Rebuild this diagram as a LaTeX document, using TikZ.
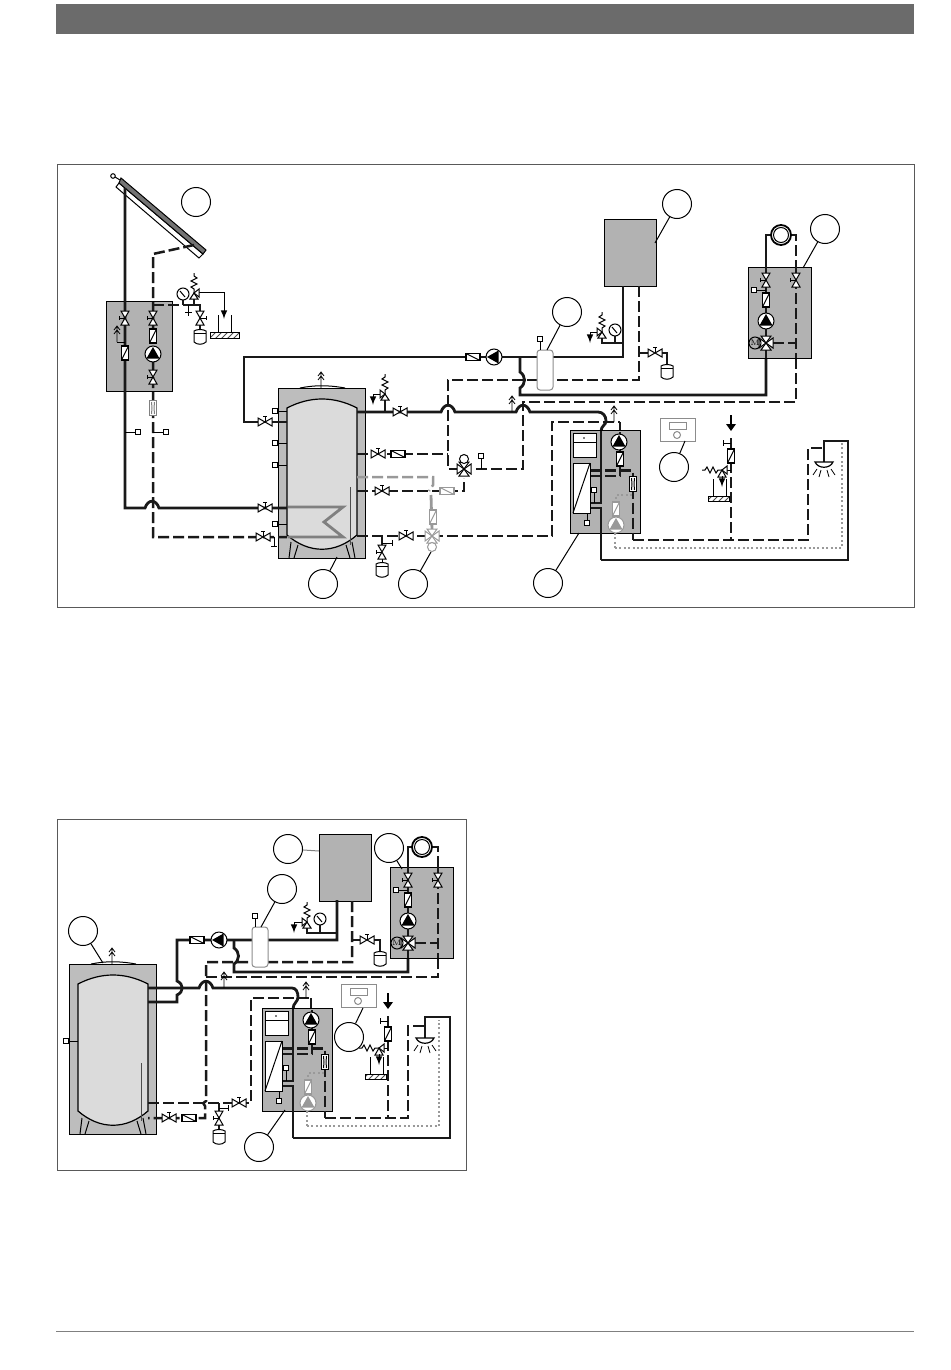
\documentclass[tikz,border=0pt]{standalone}
\usetikzlibrary{patterns}
\definecolor{grpgray}{gray}{0.70}
\definecolor{tankgray}{gray}{0.74}
\definecolor{innergray}{gray}{0.86}
\newcommand{\hump}[2]{(#1-7,#2) .. controls (#1-4,#2-9) and (#1+4,#2-9) .. (#1+7,#2)}
\tikzset{
  pipe/.style={line width=1.4pt,black!90},
  dpipe/.style={pipe,line width=1.25pt,dash pattern=on 5.5pt off 2pt},
  gpipe/.style={dpipe,black!40},
  dotpipe/.style={line width=1.2pt,black!40,dash pattern=on 1pt off 1.2pt},
  thinl/.style={line width=0.5pt},
  lightfit/.style={color=black!40},
  callout/.style={circle,draw,line width=0.5pt,fill=white,minimum size=14.5pt,inner sep=0pt},
  leader/.style={line width=0.5pt},
  hvalve/.pic={
    \draw[thinl,fill=white] (-7,-4)--(7,4)--(7,-4)--(-7,4)--cycle;
    \draw[thinl] (0,0)--(0,-6) (-2,-6)--(2,-6);},
  pumpc/.pic={
    \draw[thinl,fill=white] (0,0) circle (8);
    \fill (-6.5,4.5)--(6.5,4.5)--(0,-7)--cycle;},
  flowbox/.pic={
    \draw[line width=0.6pt,fill=white] (-3.5,-7) rectangle (3.5,7);
    \draw[thinl] (-3.5,7)--(3.5,-7);},
  meter/.pic={
    \draw[thinl,fill=white] (-3.5,-7.5) rectangle (3.5,7.5);
    \draw[thinl] (-1.5,-6)--(-1,0)--(-1.5,6) (1.5,-6)--(1,0)--(1.5,6);},
  sensorbox/.pic={\draw[thinl,fill=white] (-2.7,-2.7) rectangle (2.7,2.7);},
  vessel/.pic={
    \draw[thinl,fill=white] (-6,-6) .. controls (-3,-8) and (3,-8) .. (6,-6)--(6,5) .. controls (3,8) and (-3,8) .. (-6,5)--cycle;
    \draw[thinl] (-6,-4)--(6,-4);},
  vent/.pic={
    \draw[line width=0.4pt] (0,0)--(0,-15) (-3,-8)--(0,-12)--(3,-8) (-3,-12)--(0,-16)--(3,-12);},
  gauge/.pic={
    \draw[thinl,fill=white] (0,0) circle (6);
    \draw[thinl] (-3,-3)--(2,3);},
  safetyv/.pic={
    \draw[thinl,fill=white] (0,0)--(-4,6)--(4,6)--cycle;
    \draw[thinl,fill=white] (0,0)--(5,-4)--(5,4)--cycle;
    \draw[thinl] (0,0)--(0,-4)--(-3,-6)--(3,-9)--(-3,-12)--(3,-15)--(0,-17)--(0,-20);},
  threeway/.pic={
    \draw[thinl,fill=white] (0,0)--(-7,-5)--(-7,5)--cycle;
    \draw[thinl,fill=white] (0,0)--(7,-5)--(7,5)--cycle;
    \draw[thinl,fill=white] (0,0)--(-5,7)--(5,7)--cycle;
    \draw[thinl,fill=white] (0,0)--(-5,-7)--(5,-7)--cycle;},
  showerhead/.pic={
    \draw[line width=0.6pt,fill=white] (-9,0) .. controls (-6,7) and (6,7) .. (9,0)--cycle;
    \draw[line width=0.4pt] (-7,7)--(-11,13) (-3,8)--(-5,15) (3,8)--(5,15) (7,7)--(11,13);},
  hydsep/.pic={
    \draw[thinl,draw=black!45,fill=white,rounded corners=1.5pt] (537,350) rectangle (553,390);
    \draw[thinl] (540,350)--(540,339);
    \pic at (540,339) {sensorbox};},
  controller/.pic={
    \draw[thinl,draw=black!45,fill=white] (660,418) rectangle (695,441);
    \draw[thinl,draw=black!45] (669,422) rectangle (686,429);
    \draw[thinl,draw=black!45] (677,435) circle (3.5);},
  storetank/.pic={
    \draw[thinl,fill=tankgray] (278,388) rectangle (365,558);
    \draw[thinl] (300,388) .. controls (315,385) and (328,385) .. (345,388);
    \draw[line width=0.6pt,fill=innergray] (287,408) .. controls (310,396) and (334,396) .. (357,408)--(357,535) .. controls (335,554) and (309,554) .. (287,535)--cycle;
    \draw[thinl] (291,542)--(289,558) (298,545)--(294,558) (346,545)--(350,558) (352,542)--(355,558);
    \draw[thinl,black!70] (350,487)--(350,545);
    \pic at (321,388) {vent};},
  station/.pic={
    \draw[thinl,fill=grpgray] (570,430) rectangle (640,533);
    \draw[thinl,fill=white] (573,433) rectangle (596,457);
    \draw[thinl] (573,442)--(596,442);
    \fill (584,438) circle (0.9);
    \draw[dpipe] (590,470.5)--(633,470.5)--(633,540);
    \draw[dpipe] (590,476)--(620,476)--(620,465);
    \draw[pipe] (620,432)--(620,452);
    \draw[pipe] (601,431)--(601,503)--(590,503);
    \draw[pipe] (590,508)--(601,508)--(601,560);
    \draw[dotpipe] (632,495)--(616,495)--(616,503);
    \draw[dotpipe] (615,533)--(615,548);
    \draw[thinl,fill=white] (573,463) rectangle (590,513);
    \draw[thinl] (573,513)--(590,463);
    \draw[thinl] (594,490)--(594,503) (587,513)--(587,523);
    \pic at (594,490) {sensorbox};
    \pic at (587,523) {sensorbox};
    \pic at (619,442) {pumpc};
    \pic at (620,459) {flowbox};
    \pic at (633,484) {meter};
    \pic[lightfit] at (616,509) {flowbox};
    \pic[lightfit] at (616,525) {pumpc};},
  mixgroup/.pic={
    \draw[thinl,fill=grpgray] (748,267) rectangle (811,358);
    \draw[pipe] (766,263)--(766,358);
    \draw[dpipe] (796,263)--(796,358);
    \draw[dpipe] (773,343)--(796,343);
    \draw[thinl] (754,290)--(766,290);
    \pic at (754,290) {sensorbox};
    \pic[rotate=90] at (766,280) {hvalve};
    \pic[rotate=90] at (796,280) {hvalve};
    \pic at (766,300) {flowbox};
    \pic at (766,321) {pumpc};
    \pic at (766,343) {threeway};
    \draw[thinl] (755,343) circle (6);
    \node[inner sep=0pt,font=\fontsize{4}{4}\selectfont] (mot) at (755,343) {M};},
  coldin/.pic={
    \draw[line width=0.8pt] (731,415)--(731,424);
    \fill (726,424)--(736,424)--(731,431)--cycle;
    \draw[pipe] (731,438)--(731,452);
    \draw[dpipe] (731,462)--(731,540);
    \draw[thinl] (731,443)--(723,443) (723,440)--(723,446);
    \draw[thinl] (726,470)--(731,470);
    \draw[thinl,fill=white] (722,470)--(718,477)--(726,477)--cycle;
    \draw[thinl,fill=white] (722,470)--(727,466)--(727,474)--cycle;
    \draw[thinl] (722,470)--(718,470)--(716,473)--(713,467)--(710,473)--(707,467)--(705,470)--(702,470);
    \draw[thinl,-latex] (722,476)--(722,487);
    \pic at (731,456) {flowbox};
    \draw[thinl] (713,479)--(713,496) (726,479)--(726,496);
    \draw[thinl,pattern=north east lines,pattern color=black!70] (708,496) rectangle (729,501);},
}
\begin{document}
\begin{tikzpicture}[x=0.5pt,y=-0.5pt]
\useasboundingbox (0,0) rectangle (950,1370);
\fill[black!58] (56,4) rectangle (914,34);
\draw[black!50,thinl] (56,1331)--(914,1331);
\draw[black!65,thinl] (57,164) rectangle (914,607);
\draw[black!65,thinl] (57,819) rectangle (466,1170);

% upper picture
\fill[draw=black,thinl,fill=grpgray] (106,301) rectangle (172,391);
\draw[thinl,fill=grpgray] (604,219) rectangle (656,286);
\draw[thinl,fill=white] (119,183)--(203,254)--(199,258)--(116,187)--cycle;
\fill[draw=black,thinl,fill=black!55] (121,178)--(206,250)--(203,254)--(119,183)--cycle;
\draw[thinl,fill=white] (113,176) circle (2.3);
\draw[thinl] (115,177)--(120,180);
\pic at (0,0) {storetank};

\draw[pipe] (125,188)--(125,508)--\hump{152}{508}--(287,508);
\draw[dpipe] (194,245)--(153,254)--(153,537)--(287,537);
\draw[pipe] (287,422)--(244,422)--(244,357)--(623,357)--(623,286);
\draw[pipe] (520,357)--(520,372) .. controls (526,376) and (526,384) .. (520,388)--(520,395)--(766,395)--(766,358);
\draw[dpipe] (639,286)--(639,380)--(448,380)--(448,469)--(464,469);
\draw[dpipe] (357,454)--(448,454);
\draw[pipe] (357,412)--\hump{448}{412}--\hump{523}{412}--(598,412) .. controls (603,412) and (606,416) .. (606,421) .. controls (606,425) and (601,426) .. (601,431);
\draw[dpipe] (796,358)--(796,402)--(523,402)--(523,469)--(473,469);
\draw[dpipe] (357,536)--(552,536)--(552,422)--(620,422);
\draw[pipe] (620,422)--(620,432);
\draw[dpipe] (357,491)--(464,491)--(464,478);
\draw[gpipe] (357,477)--(433,477)--(433,485)--(429,491);
\draw[pipe,black!40] (431,495)--(432,530);
\draw[pipe] (601,560)--(848,560)--(848,441)--(824,441)--(824,462);
\draw[dpipe] (633,540)--(808,540)--(808,448)--(823,448);
\draw[dotpipe] (615,548)--(842,548)--(842,442);

\draw[pipe] (766,263)--(766,235)--(771,235);
\draw[dpipe] (791,235)--(796,235)--(796,263);
\draw[line width=0.9pt,fill=white] (781,235) circle (10);
\draw[thinl] (781,235) circle (7.5);

% upper solar group
\draw[dpipe] (153,305)--(183,305);
\draw[pipe] (183,305)--(200,305)--(200,330);
\draw[pipe] (194,299)--(194,305) (183,300)--(183,305);
\draw[thinl] (188,305)--(188,316) (185,312)--(192,312);
\draw[thinl,-latex] (199,292)--(224,292)--(224,319);
\pic at (183,294) {gauge};
\pic at (194,293) {safetyv};
\pic[rotate=-90] at (200,318) {hvalve};
\pic at (200,337) {vessel};
\draw[thinl] (218,315)--(218,332) (231,315)--(231,332);
\draw[thinl,pattern=north east lines,pattern color=black!70] (210,332) rectangle (239,338);
\pic[rotate=90] at (125,318) {hvalve};
\pic[rotate=90] at (153,318) {hvalve};
\pic at (125,353) {flowbox};
\pic at (153,336) {flowbox};
\pic at (153,354) {pumpc};
\pic[rotate=90] at (153,377) {hvalve};
\draw[thinl] (125,342)--(117,342);
\pic at (117,342) {vent};
\pic[black!50] at (153,408) {meter};
\draw[thinl] (125,432)--(135,432) (153,432)--(163,432);
\pic at (138,432) {sensorbox};
\pic at (166,432) {sensorbox};

% upper store
\draw[thinl] (278,411)--(287,411) (278,443)--(287,443) (278,465)--(287,465) (278,524)--(287,524);
\pic at (275,411) {sensorbox};
\pic at (275,443) {sensorbox};
\pic at (275,465) {sensorbox};
\pic at (275,524) {sensorbox};
\draw[line width=1.4pt,black!50] (288,507)--(343,507)--(324,522)--(343,537)--(288,537);
\draw[thinl] (274,537)--(274,546) (271,546)--(277,546);
\pic at (265,422) {hvalve};
\pic at (265,508) {hvalve};
\pic at (263,537) {hvalve};

\draw[pipe] (385,400)--(385,412);
\draw[thinl,-latex] (381,394)--(373,394)--(373,405);
\pic[xscale=-1] at (385,394) {safetyv};
\pic at (400,412) {hvalve};
\pic at (378,454) {hvalve};
\pic[rotate=90] at (398,454) {flowbox};
\pic at (382,491) {hvalve};
\pic[rotate=90,lightfit] at (447,491) {flowbox};
\pic[lightfit] at (433,517) {flowbox};
\pic at (406,536) {hvalve};
\pic[lightfit] at (432,536) {threeway};
\draw[thinl,black!40,fill=white] (432,547) circle (4.5);
\draw[pipe] (382,536)--(382,548);
\draw[thinl] (382,564)--(382,556) (382,543)--(392,543) (392,540)--(392,546);
\pic[rotate=90] at (382,552) {hvalve};
\pic at (382,570) {vessel};
\pic at (464,469) {threeway};
\draw[thinl,fill=white] (464,459) circle (4.5);
\draw[thinl] (481,469)--(481,456);
\pic at (481,456) {sensorbox};
\pic at (512,412) {vent};
\pic[rotate=90] at (473,357) {flowbox};
\pic[rotate=90] at (494,357) {pumpc};
\pic at (0,0) {hydsep};

% upper boiler fittings
\draw[pipe] (602,337)--(602,343)--(623,343);
\draw[pipe] (615,335)--(615,343);
\draw[thinl,-latex] (597,332)--(590,332)--(590,343);
\pic[xscale=-1] at (602,332) {safetyv};
\pic at (615,330) {gauge};
\draw[pipe] (639,353)--(650,353);
\draw[pipe] (660,353)--(667,353)--(667,366);
\pic at (655,353) {hvalve};
\pic at (667,372) {vessel};

\pic at (0,0) {station};
\pic at (0,0) {mixgroup};
\pic at (0,0) {coldin};
\pic at (0,0) {controller};
\pic at (824,462) {showerhead};
\pic at (614,422) {vent};

\node[callout] (cCollector) at (196,202) {};
\node[callout] (cStore) at (323,584) {};
\node[callout] (cMixDhw) at (413,584) {};
\node[callout] (cStation) at (548,583) {};
\node[callout] (cSep) at (567,312) {};
\node[callout] (cBoiler) at (677,204) {};
\node[callout] (cMix) at (825,229) {};
\node[callout] (cCtrl) at (674,467) {};
\coordinate (pStore) at (337,557);
\coordinate (pMixDhw) at (431,552);
\coordinate (pStation) at (579,533);
\coordinate (pSep) at (547,350);
\coordinate (pBoiler) at (655,243);
\coordinate (pMix) at (803,268);
\coordinate (pCtrl) at (685,441);
\draw[leader] (cStore)--(pStore);
\draw[leader] (cMixDhw)--(pMixDhw);
\draw[leader] (cStation)--(pStation);
\draw[leader] (cSep)--(pSep);
\draw[leader] (cBoiler)--(pBoiler);
\draw[leader] (cMix)--(pMix);
\draw[leader] (cCtrl)--(pCtrl);

% lower picture
\draw[thinl,fill=grpgray] (319,834) rectangle (371,901);
\pic at (-209,576) {storetank};
\draw[pipe] (148,988)--\hump{206}{988}--(292,988) .. controls (296,988) and (298,992) .. (298,997) .. controls (298,1002) and (293,1003) .. (293,1009);
\draw[pipe] (148,1002)--(177,1002)--(177,995) .. controls (184,992) and (184,984) .. (177,981)--(177,940)--(337,940)--(337,900);
\draw[dpipe] (352,901)--(352,962)--(206,962)--(206,1101) .. controls (201,1104) and (205,1104) .. (205,1106)--(205,1118)--(148,1118);
\draw[dpipe] (206,977)--(438,977)--(438,958);
\draw[dpipe] (148,1103)--(251,1103)--(251,998)--(311,998);
\draw[pipe] (311,998)--(311,1010);
\draw[pipe] (234,940)--(234,948) .. controls (240,952) and (240,960) .. (234,964)--(234,972)--(408,972)--(408,958);
\draw[pipe] (293,1138)--(450,1138)--(450,1017)--(425,1017)--(425,1038);
\draw[dpipe] (325,1118)--(408,1118)--(408,1026)--(425,1026);
\draw[dotpipe] (307,1126)--(439,1126)--(439,1020);

\draw[pipe] (408,867)--(408,847)--(412,847);
\draw[dpipe] (432,847)--(438,847)--(438,867);
\draw[line width=0.9pt,fill=white] (422,847) circle (10);
\draw[thinl] (422,847) circle (7.5);

\draw[thinl] (69,1041)--(78,1041);
\pic at (66,1041) {sensorbox};
\pic at (169,1118) {hvalve};
\pic[rotate=90] at (189,1118) {flowbox};
\pic at (239,1103) {hvalve};
\draw[pipe] (219,1103)--(219,1130);
\draw[thinl] (219,1108)--(228,1108) (228,1105)--(228,1111);
\pic[rotate=90] at (219,1118) {hvalve};
\pic at (219,1137) {vessel};
\pic at (224,988) {vent};
\pic[rotate=90] at (197,940) {flowbox};
\pic[rotate=90] at (219,940) {pumpc};
\pic at (-285,577) {hydsep};

\draw[pipe] (307,928)--(307,933)--(337,933);
\draw[pipe] (320,925)--(320,933);
\draw[thinl,-latex] (302,922)--(294,922)--(294,933);
\pic[xscale=-1] at (307,922) {safetyv};
\pic at (320,919) {gauge};
\draw[pipe] (352,940)--(362,940);
\draw[pipe] (372,940)--(380,940)--(380,953);
\pic at (367,940) {hvalve};
\pic at (380,959) {vessel};

\pic at (-308,578) {station};
\pic at (-358,600) {mixgroup};
\pic at (-343,578) {coldin};
\pic at (-319,566) {controller};
\pic at (425,1038) {showerhead};
\pic at (306,998) {vent};

\node[callout] (cStoreB) at (83,931) {};
\node[callout] (cBoilerB) at (288,849) {};
\node[callout] (cSepB) at (282,889) {};
\node[callout] (cMixB) at (389,848) {};
\node[callout] (cCtrlB) at (349,1037) {};
\node[callout] (cStationB) at (259,1147) {};
\coordinate (pStoreB) at (103,963);
\coordinate (pBoilerB) at (319,851);
\coordinate (pSepB) at (261,927);
\coordinate (pMixB) at (402,869);
\coordinate (pCtrlB) at (363,1008);
\coordinate (pStationB) at (285,1110);
\draw[leader] (cStoreB)--(pStoreB);
\draw[leader,black!50] (cBoilerB)--(pBoilerB);
\draw[leader] (cSepB)--(pSepB);
\draw[leader] (cMixB)--(pMixB);
\draw[leader] (cCtrlB)--(pCtrlB);
\draw[leader] (cStationB)--(pStationB);
\end{tikzpicture}
\end{document}
